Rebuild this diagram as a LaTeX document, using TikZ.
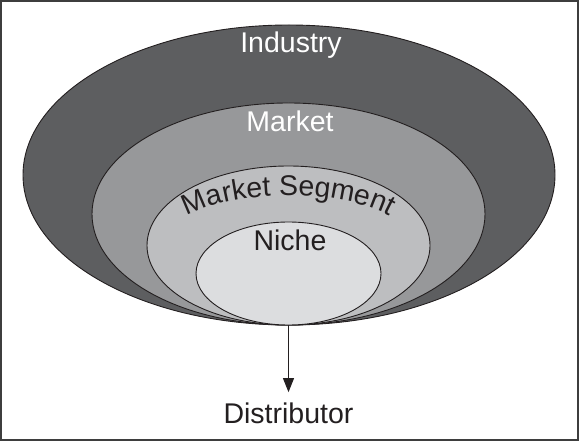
\documentclass[tikz,border=0pt]{standalone}
\usepackage{fontspec}
\setmainfont{Liberation Sans}
\usetikzlibrary{shapes.geometric,arrows.meta,decorations.text}
\definecolor{indfill}{HTML}{5D5E60}
\definecolor{mktfill}{HTML}{97989A}
\definecolor{segfill}{HTML}{BDBEC0}
\definecolor{nicfill}{HTML}{DCDDDF}
\definecolor{ink}{HTML}{231F20}
\definecolor{framecol}{HTML}{3E3E3E}
\newcommand{\lblfont}{\fontsize{28.5}{30}\selectfont}
\tikzset{
  ring/.style={ellipse, draw=ink, line width=0.9pt, inner sep=0pt, outer sep=0pt},
  lbl/.style={font=\lblfont, inner sep=0pt, anchor=base},
}
\begin{document}
\begin{tikzpicture}[x=1pt,y=1pt]
\useasboundingbox (0,0) rectangle (580,442);
\draw[framecol, line width=2pt] (1,2) rectangle (578,441);
\node[ring, fill=indfill, minimum width=532pt, minimum height=300pt] (industry) at (289,267) {};
\node[ring, fill=mktfill, minimum width=393pt, minimum height=222pt] (market) at (288.5,228) {};
\node[ring, fill=segfill, minimum width=283pt, minimum height=159pt] (segment) at (288.5,196.5) {};
\node[ring, fill=nicfill, minimum width=185pt, minimum height=103pt] (niche) at (288.5,168.5) {};
\node[lbl, text=white] (tind) at (291,389) {Industry};
\node[lbl, text=white] (tmkt) at (290,310) {Market};
\node[lbl, text=ink] (tnic) at (290,192) {Niche};
\path[decorate, decoration={text along path, text align=center,
  text={|\fontsize{28.5}{30}\selectfont\color{ink}|Market Segment}}]
  (163.5,196.5) arc[start angle=180, end angle=0, x radius=125pt, y radius=50pt];
\node[lbl, text=ink] (dist) at (288.5,19) {Distributor};
\draw[ink, line width=1pt, -{Triangle[width=11pt,length=14pt]}] (niche.south) -- ([yshift=10pt]dist.north);
\end{tikzpicture}
\end{document}
